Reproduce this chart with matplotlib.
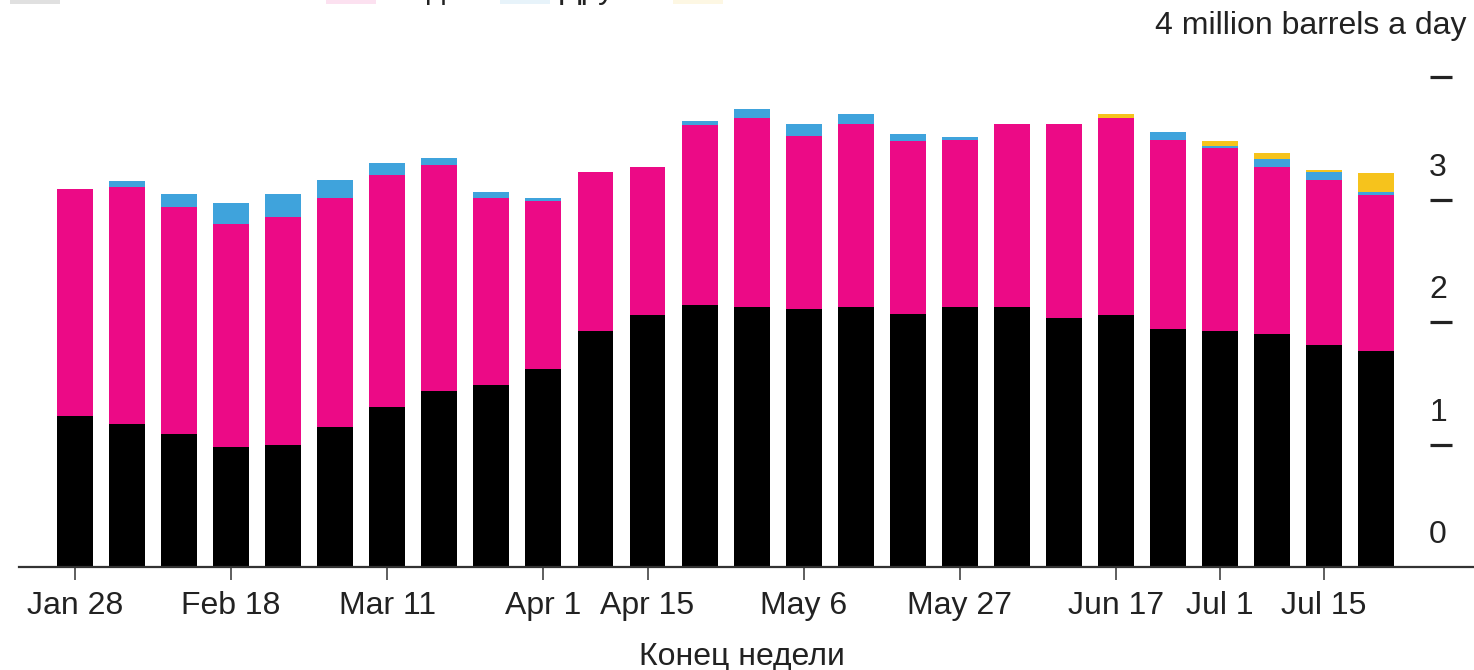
import numpy as np
import matplotlib
matplotlib.use("Agg")
import matplotlib.pyplot as plt
from matplotlib.patches import Rectangle

# ---- Data (million barrels a day, week ending) ----
weeks = ["Jan 28", "Feb 4", "Feb 11", "Feb 18", "Feb 25", "Mar 4", "Mar 11", "Mar 18",
         "Mar 25", "Apr 1", "Apr 8", "Apr 15", "Apr 22", "Apr 29", "May 6", "May 13",
         "May 20", "May 27", "Jun 3", "Jun 10", "Jun 17", "Jun 24", "Jul 1", "Jul 8",
         "Jul 15", "Jul 22"]
black_vals = [1.23, 1.17, 1.09, 0.98, 1.00, 1.14, 1.31, 1.44, 1.49, 1.62, 1.93, 2.06, 2.14,
              2.12, 2.11, 2.12, 2.07, 2.12, 2.12, 2.03, 2.06, 1.94, 1.93, 1.90, 1.81, 1.76]
pink_vals = [1.86, 1.93, 1.85, 1.82, 1.86, 1.87, 1.89, 1.84, 1.52, 1.37, 1.30, 1.21, 1.47,
             1.55, 1.41, 1.50, 1.41, 1.37, 1.50, 1.59, 1.61, 1.55, 1.49, 1.37, 1.35, 1.28]
blue_vals = [0.00, 0.05, 0.11, 0.17, 0.19, 0.15, 0.10, 0.06, 0.05, 0.02, 0.00, 0.00, 0.03,
             0.07, 0.10, 0.08, 0.06, 0.02, 0.00, 0.00, 0.00, 0.06, 0.02, 0.06, 0.07, 0.02]
yellow_vals = [0, 0, 0, 0, 0, 0, 0, 0, 0, 0, 0, 0, 0,
               0, 0, 0, 0, 0, 0, 0, 0.03, 0, 0.04, 0.05, 0.01, 0.16]

series_labels = ["Китай", "Индия", "Другие", "Неизвестно"]
series_colors = ["#000000", "#EC0A86", "#3FA3DC", "#F6C31C"]

tick_idx = [0, 3, 6, 9, 11, 14, 17, 20, 22, 24]
y_ticks = [0, 1, 2, 3]
y_dashes = [1, 2, 3, 4]

plt.rcParams['font.family'] = ['Liberation Sans', 'DejaVu Sans']
text_color = "#222222"
fs = 23

# ---- Figure ----
W, H = 1474, 670
fig = plt.figure(figsize=(W / 100, H / 100), dpi=100)
ax = fig.add_axes([19 / W, (H - 567) / H, 1 - 19 / W, 1 - 16 / H - (H - 567) / H])

x = np.arange(len(weeks))
bottom = np.zeros(len(weeks))
for vals, col, lab in zip([black_vals, pink_vals, blue_vals, yellow_vals], series_colors, series_labels):
    ax.bar(x, vals, width=0.69, bottom=bottom, color=col, label=lab, linewidth=0)
    bottom += np.array(vals)

ax.set_xlim(-1.076, 26.88)
ax.set_ylim(0, 4.5)

# ---- Axes styling ----
for side in ["top", "right", "left"]:
    ax.spines[side].set_visible(False)
ax.spines["bottom"].set_color("#333333")
ax.spines["bottom"].set_linewidth(1.6)
ax.set_yticks([])
ax.set_xticks(tick_idx)
ax.set_xticklabels([weeks[i] for i in tick_idx], fontsize=fs, color=text_color)
ax.tick_params(axis="x", length=9, width=1.1, color="#333333", pad=8)

# ---- Right-hand value scale ----
ax.hlines(y_dashes, 26.04, 26.46, color=text_color, linewidth=2.3, clip_on=False)
for v in y_ticks:
    ax.text(26.19, v + 0.26, str(v), ha="center", va="center", fontsize=fs, color=text_color)
ax.text(26.73, 4.42, "4 million barrels a day", ha="right", va="center", fontsize=fs,
        color=text_color)

fig.text(742 / W, 1 - 657 / H, "Конец недели", ha="center", va="center", fontsize=fs,
         color=text_color)

# ---- Legend (cropped at the top edge, as in the source) ----
legend_x = [10, 326, 500, 673]
for lx, col, lab in zip(legend_x, series_colors, series_labels):
    fig.patches.append(Rectangle((lx / W, 1 - 4 / H), 50 / W, 40 / H, transform=fig.transFigure,
                                 facecolor=col, alpha=0.12, linewidth=0))
    fig.text((lx + 60) / W, 1 + 2 / H, lab, ha="left", va="baseline", fontsize=fs, color=text_color)

fig.savefig("out.png", dpi=100)
